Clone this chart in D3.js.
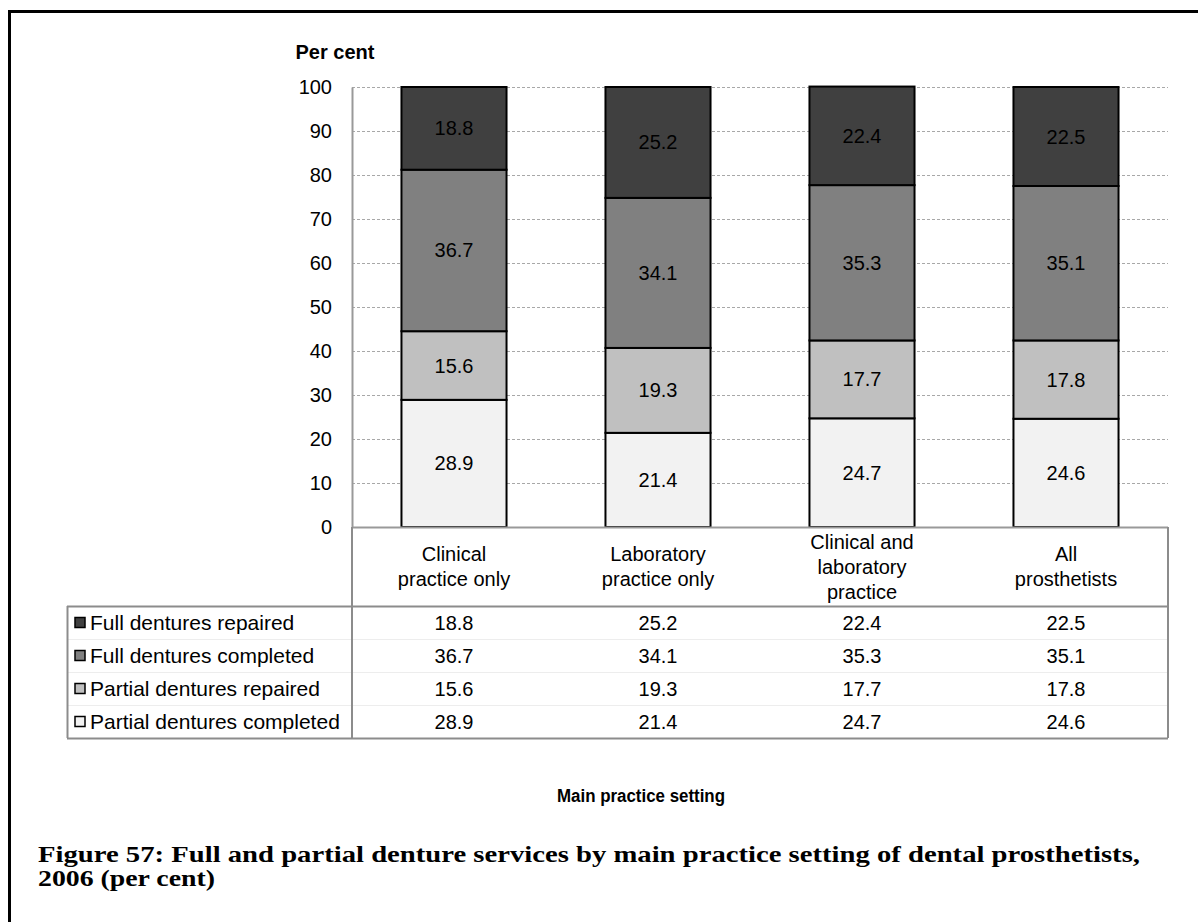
<!DOCTYPE html>
<html><head><meta charset="utf-8">
<script src="https://cdn.jsdelivr.net/npm/d3@7"></script>
<style>body{margin:0;background:#fff}svg{display:block}</style>
</head><body>
<svg id="chart" width="1198" height="922" font-family="Arial, 'Liberation Sans', sans-serif"></svg>
<script>
const categories = [["Clinical","practice only"],["Laboratory","practice only"],["Clinical and","laboratory","practice"],["All","prosthetists"]];
const seriesNames = ["Partial dentures completed","Partial dentures repaired","Full dentures completed","Full dentures repaired"];
const partialCompleted = [28.9,21.4,24.7,24.6];
const partialRepaired = [15.6,19.3,17.7,17.8];
const fullCompleted = [36.7,34.1,35.3,35.1];
const fullRepaired = [18.8,25.2,22.4,22.5];
const yTicks = [0,10,20,30,40,50,60,70,80,90,100];
const colors = ["#f2f2f2","#c0c0c0","#808080","#404040"];

const series = [partialCompleted, partialRepaired, fullCompleted, fullRepaired];
const svg = d3.select("#chart");
const FS = 20;

// outer frame
svg.append("path").attr("d","M9.5,922 L9.5,11.5 L1198,11.5").attr("fill","none").attr("stroke","#000").attr("stroke-width",3);

const x0 = 352, x1 = 1168, yTop = 87, yBot = 527;
const x = d3.scaleBand().domain(d3.range(categories.length)).range([x0,x1]).paddingInner(0.485).paddingOuter(0.2425);
const y = d3.scaleLinear().domain([0,100]).range([yBot,yTop]);

// gridlines
svg.append("g").selectAll("line").data(yTicks.filter(t=>t>0)).join("line")
  .attr("x1",x0).attr("x2",x1).attr("y1",d=>Math.round(y(d))+0.5).attr("y2",d=>Math.round(y(d))+0.5)
  .attr("stroke","#a8a8a8").attr("stroke-dasharray","3,2").attr("stroke-width",1);

// y axis
const yAxis = d3.axisLeft(y).tickValues(yTicks).tickSize(0).tickPadding(20);
const ga = svg.append("g").attr("transform",`translate(${x0},0)`).call(yAxis);
ga.select(".domain").attr("stroke","#999").attr("stroke-width",2);
ga.selectAll("text").attr("font-size",FS).attr("fill","#000").attr("font-family","Arial, 'Liberation Sans', sans-serif");

svg.append("text").attr("x",335).attr("y",59).attr("text-anchor","middle").attr("font-weight","bold").attr("font-size",20).text("Per cent");

// stacked bars
const stackData = categories.map((c,i)=>{const o={i}; series.forEach((s,k)=>o[k]=s[i]); return o;});
const stacked = d3.stack().keys(d3.range(series.length))(stackData);
const gb = svg.append("g");
stacked.forEach((layer,k)=>{
  const g = gb.append("g");
  g.selectAll("rect").data(layer).join("rect")
    .attr("x",d=>x(d.data.i)).attr("width",x.bandwidth())
    .attr("y",d=>y(d[1])).attr("height",d=>y(d[0])-y(d[1]))
    .attr("fill",colors[k]).attr("stroke","#000").attr("stroke-width",2);
  g.selectAll("text").data(layer).join("text")
    .attr("x",d=>x(d.data.i)+x.bandwidth()/2).attr("y",d=>(y(d[0])+y(d[1]))/2+7)
    .attr("text-anchor","middle").attr("font-size",FS).attr("fill","#000")
    .text(d=>(d[1]-d[0]).toFixed(1));
});

// baseline
svg.append("line").attr("x1",x0).attr("x2",x1).attr("y1",yBot+0.5).attr("y2",yBot+0.5).attr("stroke","#999").attr("stroke-width",2);

// data table
const tLeft = 67, hdrBot = 606, rowH = 33, tBot = hdrBot + rowH*4;
const tbl = svg.append("g");
const lineCol = "#8c8c8c";
for(let r=1;r<4;r++){
  tbl.append("line").attr("x1",tLeft).attr("x2",x1).attr("y1",hdrBot+r*rowH+0.5).attr("y2",hdrBot+r*rowH+0.5).attr("stroke","#ededed");
}
tbl.append("line").attr("x1",tLeft).attr("x2",x1).attr("y1",hdrBot+0.5).attr("y2",hdrBot+0.5).attr("stroke",lineCol).attr("stroke-width",2);
tbl.append("line").attr("x1",tLeft).attr("x2",x1).attr("y1",tBot+0.5).attr("y2",tBot+0.5).attr("stroke",lineCol).attr("stroke-width",2);
tbl.append("line").attr("x1",tLeft+0.5).attr("x2",tLeft+0.5).attr("y1",hdrBot).attr("y2",tBot).attr("stroke",lineCol).attr("stroke-width",2);
tbl.append("line").attr("x1",x0).attr("x2",x0).attr("y1",yBot).attr("y2",tBot).attr("stroke",lineCol).attr("stroke-width",2);
tbl.append("line").attr("x1",x1).attr("x2",x1).attr("y1",yBot).attr("y2",tBot).attr("stroke",lineCol).attr("stroke-width",2);

// category labels
categories.forEach((lines,i)=>{
  const cx = x(i)+x.bandwidth()/2;
  const n = lines.length;
  const mid = (yBot+hdrBot)/2;
  lines.forEach((ln,j)=>{
    tbl.append("text").attr("x",cx).attr("y",mid+(j-(n-1)/2)*25+7)
      .attr("text-anchor","middle").attr("font-size",FS).attr("fill","#000").text(ln);
  });
});

// rows (top = Full dentures repaired)
const rowOrder = [3,2,1,0];
rowOrder.forEach((k,r)=>{
  const cy = hdrBot + r*rowH + rowH/2;
  tbl.append("rect").attr("x",75).attr("y",cy-5).attr("width",10).attr("height",10)
    .attr("fill",colors[k]).attr("stroke","#000").attr("stroke-width",1.5);
  tbl.append("text").attr("x",90).attr("y",cy+7).attr("font-size",21).attr("fill","#000").text(seriesNames[k]);
  series[k].forEach((v,i)=>{
    tbl.append("text").attr("x",x(i)+x.bandwidth()/2).attr("y",cy+7).attr("text-anchor","middle")
      .attr("font-size",FS).attr("fill","#000").text(v.toFixed(1));
  });
});

svg.append("text").attr("x",641).attr("y",802).attr("text-anchor","middle").attr("font-weight","bold").attr("font-size",18)
  .attr("textLength",168).attr("lengthAdjust","spacingAndGlyphs").text("Main practice setting");

const cap = svg.append("text").attr("font-family","'Liberation Serif', 'DejaVu Serif', serif").attr("font-weight","bold").attr("font-size",24).attr("fill","#000");
cap.append("tspan").attr("x",38).attr("y",862).attr("textLength",1102).attr("lengthAdjust","spacingAndGlyphs").text("Figure 57: Full and partial denture services by main practice setting of dental prosthetists,");
cap.append("tspan").attr("x",38).attr("y",886).attr("textLength",177).attr("lengthAdjust","spacingAndGlyphs").text("2006 (per cent)");
</script>
</body></html>
